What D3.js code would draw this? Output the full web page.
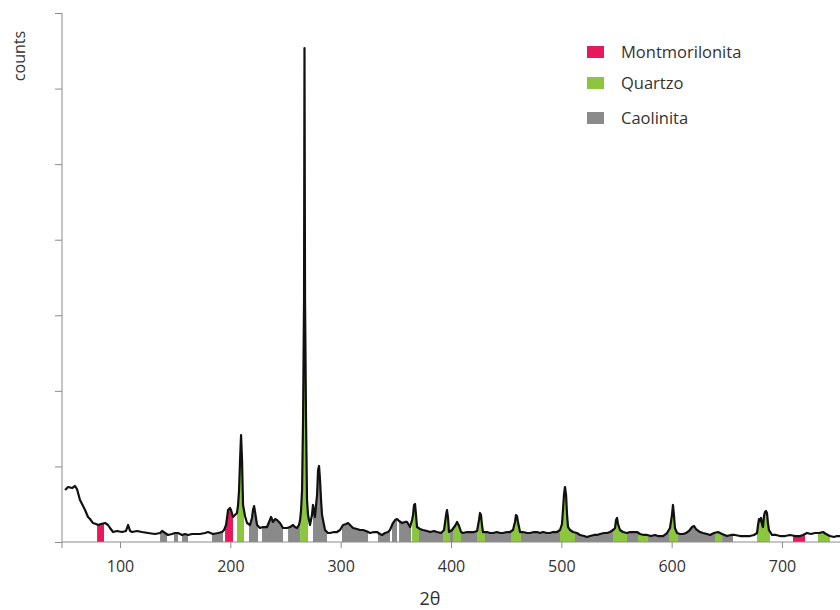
<!DOCTYPE html>
<html><head><meta charset="utf-8">
<script src="https://cdn.jsdelivr.net/npm/d3@7"></script>
<style>
html,body{margin:0;padding:0;background:#fff;}
svg{display:block;}
text{font-family:"Open Sans","Noto Sans",sans-serif;fill:#333;}
</style></head>
<body><svg id="c" width="840" height="610"></svg>
<script>
// ---- data ----
const theta = [50.2,52.9,56.5,59.2,61.0,63.7,66.5,68.3,71.0,72.8,75.5,78.2,80.1,82.8,86.4,89.1,90.9,93.7,97.3,101.8,105.4,107.3,109.1,110.9,115.4,119.9,125.4,131.7,136.3,138.1,140.8,143.5,147.1,149.9,152.6,156.2,158.9,161.6,165.3,168.9,172.5,177.0,179.8,184.3,188.8,192.5,194.3,196.1,197.0,197.9,199.7,200.6,202.4,204.2,206.0,207.0,207.9,208.8,209.7,210.6,211.5,213.3,215.1,217.8,219.6,220.5,221.5,222.4,224.2,226.9,229.6,233.2,235.1,236.9,238.7,240.5,242.3,245.0,247.7,251.4,254.1,256.8,258.6,260.4,262.2,263.2,264.1,265.0,265.9,266.8,267.2,267.7,268.6,269.5,270.4,272.2,274.0,274.9,276.7,277.7,278.6,279.5,280.4,281.3,282.2,283.1,284.9,285.8,288.5,290.3,294.0,296.7,299.4,302.1,304.8,306.7,309.4,311.2,314.8,317.5,320.3,323.0,326.6,330.2,332.9,335.7,337.5,340.2,342.9,344.7,347.4,349.3,351.1,352.9,355.6,358.3,360.1,361.9,362.9,364.7,365.6,366.5,367.4,368.3,369.2,371.9,374.6,378.3,381.0,384.6,387.3,391.0,393.7,395.5,396.4,397.3,398.2,400.9,403.6,405.5,407.3,409.1,410.9,414.5,417.2,420.9,423.6,425.4,426.3,427.2,428.1,429.0,432.6,435.4,438.1,441.7,444.4,447.1,450.8,453.5,456.2,458.0,458.9,459.8,460.7,462.6,465.3,468.9,471.6,475.2,478.0,480.7,483.4,487.0,489.7,492.5,496.1,498.8,500.6,501.5,502.4,503.3,504.3,505.2,506.1,507.9,510.6,514.2,516.9,520.6,523.3,526.0,529.6,532.4,535.1,538.7,541.4,544.1,546.9,548.7,549.6,550.5,551.4,553.2,555.9,559.5,562.3,565.9,568.6,571.3,574.9,577.7,581.3,584.9,587.6,592.2,595.8,598.5,600.3,601.2,602.1,603.0,604.9,607.6,610.3,613.0,615.7,618.5,620.3,622.1,625.7,628.4,632.1,634.8,638.4,642.0,645.7,650.2,653.8,657.4,662.0,666.5,671.0,674.7,677.4,678.3,679.2,680.1,681.0,681.9,682.8,683.7,684.6,685.5,686.4,687.3,688.2,691.0,694.6,698.2,702.8,707.3,711.8,716.4,719.1,722.7,726.3,729.9,733.6,737.2,739.9,743.5,747.1,749.9,752.6];
const counts = [688,728,714,741,701,556,476,423,331,304,251,238,225,238,251,225,185,132,146,132,146,225,146,132,146,132,119,106,119,146,119,93,106,119,119,93,106,93,106,106,106,119,132,106,119,132,159,225,318,423,450,423,331,357,384,490,688,1085,1416,1085,490,344,251,225,318,423,476,397,225,185,198,198,265,331,265,304,291,251,185,185,198,225,198,185,225,291,423,688,1614,3202,6537,3202,1614,556,357,225,357,490,331,490,622,953,1006,820,556,357,225,159,119,119,132,132,159,225,238,251,212,185,172,159,159,146,119,132,132,106,93,119,132,159,251,291,304,278,251,265,265,225,198,291,357,490,503,357,198,172,159,146,132,146,132,119,159,357,423,318,132,159,212,265,212,132,119,132,132,132,146,291,384,357,225,132,132,119,119,132,119,119,132,132,159,265,357,344,265,132,132,119,119,132,132,119,132,119,119,132,132,159,238,423,622,728,622,357,198,159,132,119,93,79,66,79,93,93,106,119,119,132,159,185,291,318,238,159,132,119,132,132,132,106,93,93,79,93,79,79,119,185,357,490,357,185,119,106,106,119,146,198,212,172,132,119,106,93,119,132,106,79,93,93,79,79,79,93,119,225,304,278,318,238,198,344,397,410,384,251,159,93,93,79,79,93,79,79,93,119,106,119,119,132,106,79,66,79,79];

const montmorilonitaRanges = [[79.2,85.5],[195.2,202.4],[710.0,720.9]];
const quartzoRanges = [[206.0,212.4],[263.2,270.4],[364.7,371.0],[392.8,399.1],[401.8,409.1],[423.6,430.8],[454.4,463.4],[498.8,512.4],[546.9,559.5],[569.5,578.6],[597.6,605.8],[639.3,645.7],[677.4,689.1],[732.6,743.5]];
const caolinitaRanges = [[136.3,142.6],[148.9,152.6],[156.2,161.6],[183.4,193.4],[216.9,225.1],[228.7,247.7],[252.3,263.2],[274.9,287.6],[301.2,324.8],[333.8,344.7],[346.5,351.1],[352.9,363.8],[371.0,392.8],[399.1,401.8],[409.1,423.6],[430.8,454.4],[463.4,498.8],[512.4,546.9],[559.5,569.5],[578.6,597.6],[605.8,639.3],[645.7,655.6]];

const legendLabels = ["Montmorilonita","Quartzo","Caolinita"];
const legendColors = ["#e5195c","#8cc63f","#8a8a8a"];
const xTicks = [100,200,300,400,500,600,700];
const yTicks = [0,1000,2000,3000,4000,5000,6000,7000];

// ---- drawing ----
const svg = d3.select("#c");
const L = 62, R = 840, T = 13, B = 542;
const x = d3.scaleLinear().domain([47.4,752.6]).range([L,R]);
const y = d3.scaleLinear().domain([0,7000]).range([B,T]);
const pts = theta.map((t,i)=>[t,counts[i]]);

const area = d3.area().x(d=>x(d[0])).y0(y(0)).y1(d=>y(d[1]));
const line = d3.line().x(d=>x(d[0])).y(d=>y(d[1]));

const defs = svg.append("defs");
const phases = [
  {name:"caol", ranges:caolinitaRanges, color:legendColors[2]},
  {name:"quar", ranges:quartzoRanges, color:legendColors[1]},
  {name:"mont", ranges:montmorilonitaRanges, color:legendColors[0]}
];
phases.forEach(p=>{
  const cp = defs.append("clipPath").attr("id","clip-"+p.name);
  p.ranges.forEach(r=>{
    cp.append("rect").attr("x",x(r[0])).attr("y",T-5)
      .attr("width",x(r[1])-x(r[0])).attr("height",B-T+5);
  });
  svg.append("path").datum(pts).attr("d",area)
    .attr("fill",p.color).attr("clip-path","url(#clip-"+p.name+")");
});

// axes
const axisColor = "#8c8c8c";
const gx = svg.append("g").attr("transform",`translate(0,${B})`)
  .call(d3.axisBottom(x).tickValues(xTicks).tickSize(6).tickSizeOuter(6).tickPadding(13));
gx.select(".domain").attr("stroke",axisColor).attr("d",`M${L},6V0H${R}`);
gx.selectAll(".tick line").attr("stroke",axisColor);
gx.selectAll(".tick text").attr("fill","#333").style("font-size","16px").style("font-family","Open Sans");
const gy = svg.append("g").attr("transform",`translate(${L},0)`)
  .call(d3.axisLeft(y).tickValues(yTicks).tickSize(7).tickFormat(""));
gy.select(".domain").attr("stroke",axisColor).attr("d",`M0,${T}V${B}`);
gy.selectAll(".tick line").attr("stroke",axisColor);

// spectrum line
svg.append("path").datum(pts).attr("d",line)
  .attr("fill","none").attr("stroke","#111").attr("stroke-width",2.2)
  .attr("stroke-linejoin","round");

// axis titles
svg.append("text").attr("transform","translate(25,56) rotate(-90)")
  .attr("text-anchor","middle").style("font-size","16px").text("counts");
svg.append("text").attr("x",430).attr("y",605)
  .attr("text-anchor","middle").style("font-size","18px").text("2θ");

// legend
const legY = [52,83,118];
legendLabels.forEach((lab,i)=>{
  svg.append("rect").attr("x",587).attr("y",legY[i]-6).attr("width",17).attr("height",12)
    .attr("fill",legendColors[i]);
  svg.append("text").attr("x",621).attr("y",legY[i]).attr("dy","0.35em")
    .style("font-size","16.5px").attr("fill","#222").text(lab);
});
</script></body></html>
